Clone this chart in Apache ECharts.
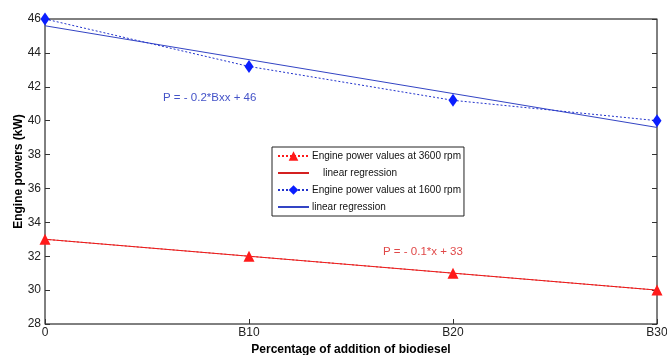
<!DOCTYPE html>
<html>
<head>
<meta charset="utf-8">
<script src="https://cdn.jsdelivr.net/npm/echarts@6/dist/echarts.min.js"></script>
<style>
  html, body { margin: 0; padding: 0; background: #fff; }
  #chart { width: 667px; height: 355px; }
</style>
</head>
<body>
<div id="chart"></div>
<script>
// Biodiesel blend categories
const blends = ['0', 'B10', 'B20', 'B30'];

// Measured engine power (kW)
const power3600 = [33, 32, 31, 30];
const fit3600 = [33, 32, 31, 30];
const power1600 = [46, 43.2, 41.2, 40];
const fit1600 = [45.6, 43.6, 41.6, 39.6];

const yTicks = { min: 28, max: 46, step: 2 };

const RED = '#ff1a1a';
const BLUE = '#0a1eff';
const BLUE_FIT = '#3344c4';
const AXIS_GREY = '#7f7f7f';
const FONT = 'Liberation Sans, Arial, sans-serif';

const chart = echarts.init(document.getElementById('chart'));

const option = {
  animation: false,
  backgroundColor: '#fff',
  grid: {
    left: 45,
    right: 10,
    top: 19,
    bottom: 31,
    outerBoundsMode: 'none',
    containLabel: false,
    show: true,
    borderColor: '#000',
    borderWidth: 1,
  },
  xAxis: {
    type: 'category',
    data: blends,
    boundaryGap: false,
    name: 'Percentage of addition of biodiesel',
    nameLocation: 'middle',
    nameGap: 16,
    nameTextStyle: { fontFamily: FONT, fontSize: 12, fontWeight: 'bold', color: '#000' },
    axisLine: { lineStyle: { color: AXIS_GREY, width: 1 } },
    axisTick: { inside: true, length: 5, lineStyle: { color: '#333' } },
    axisLabel: { fontFamily: FONT, fontSize: 12, color: '#222', margin: 3 },
    splitLine: { show: false },
  },
  yAxis: [
    {
      type: 'value',
      min: yTicks.min,
      max: yTicks.max,
      interval: yTicks.step,
      name: 'Engine powers (kW)',
      nameLocation: 'middle',
      nameGap: 20,
      nameMoveOverlap: false,
      nameTextStyle: { fontFamily: FONT, fontSize: 12, fontWeight: 'bold', color: '#000' },
      axisLine: { show: true, lineStyle: { color: AXIS_GREY, width: 1 } },
      axisTick: { show: true, inside: true, length: 5, lineStyle: { color: '#333' } },
      axisLabel: { fontFamily: FONT, fontSize: 12, color: '#222', margin: 4 },
      splitLine: { show: false },
    },
    {
      type: 'value',
      position: 'right',
      min: yTicks.min,
      max: yTicks.max,
      interval: yTicks.step,
      axisLine: { show: true, lineStyle: { color: AXIS_GREY, width: 1 } },
      axisTick: { show: true, inside: true, length: 5, lineStyle: { color: '#333' } },
      axisLabel: { show: false },
      splitLine: { show: false },
    },
  ],
  legend: {
    orient: 'vertical',
    left: 272,
    top: 147,
    padding: [4, 3, 4, 5],
    itemGap: 7,
    itemWidth: 31,
    itemHeight: 12,
    backgroundColor: '#fff',
    borderColor: '#222',
    borderWidth: 1,
    borderRadius: 0,
    textStyle: { fontFamily: FONT, fontSize: 10, color: '#111', padding: [0, 0, 0, -2] },
    data: [
      { name: 'Engine power values at 3600 rpm' },
      { name: '    linear regression', itemStyle: { opacity: 0 } },
      { name: 'Engine power values at 1600 rpm' },
      { name: 'linear regression', itemStyle: { opacity: 0 } },
    ],
  },
  series: [
    {
      name: '    linear regression',
      type: 'line',
      data: fit3600,
      symbol: 'none',
      lineStyle: { color: '#d42020', width: 1 },
      itemStyle: { color: '#d42020', opacity: 0 },
    },
    {
      name: 'Engine power values at 3600 rpm',
      type: 'line',
      data: power3600,
      symbol: 'triangle',
      symbolSize: 11,
      lineStyle: { color: RED, width: 1, type: [2, 2] },
      itemStyle: { color: RED },
    },
    {
      name: 'linear regression',
      type: 'line',
      data: fit1600,
      symbol: 'none',
      lineStyle: { color: BLUE_FIT, width: 1 },
      itemStyle: { color: BLUE_FIT, opacity: 0 },
    },
    {
      name: 'Engine power values at 1600 rpm',
      type: 'line',
      data: power1600,
      symbol: 'diamond',
      symbolSize: [9, 13],
      lineStyle: { color: '#2233cc', width: 1, type: [2, 2] },
      itemStyle: { color: BLUE },
    },
  ],
  graphic: [
    {
      type: 'text',
      left: 163,
      top: 92,
      style: { text: 'P = - 0.2*Bxx + 46', fontFamily: FONT, fontSize: 11.5, fill: '#4453c8' },
    },
    {
      type: 'text',
      left: 383,
      top: 246,
      style: { text: 'P = - 0.1*x + 33', fontFamily: FONT, fontSize: 11.5, fill: '#e04848' },
    },
  ],
};

chart.setOption(option);
</script>
</body>
</html>
